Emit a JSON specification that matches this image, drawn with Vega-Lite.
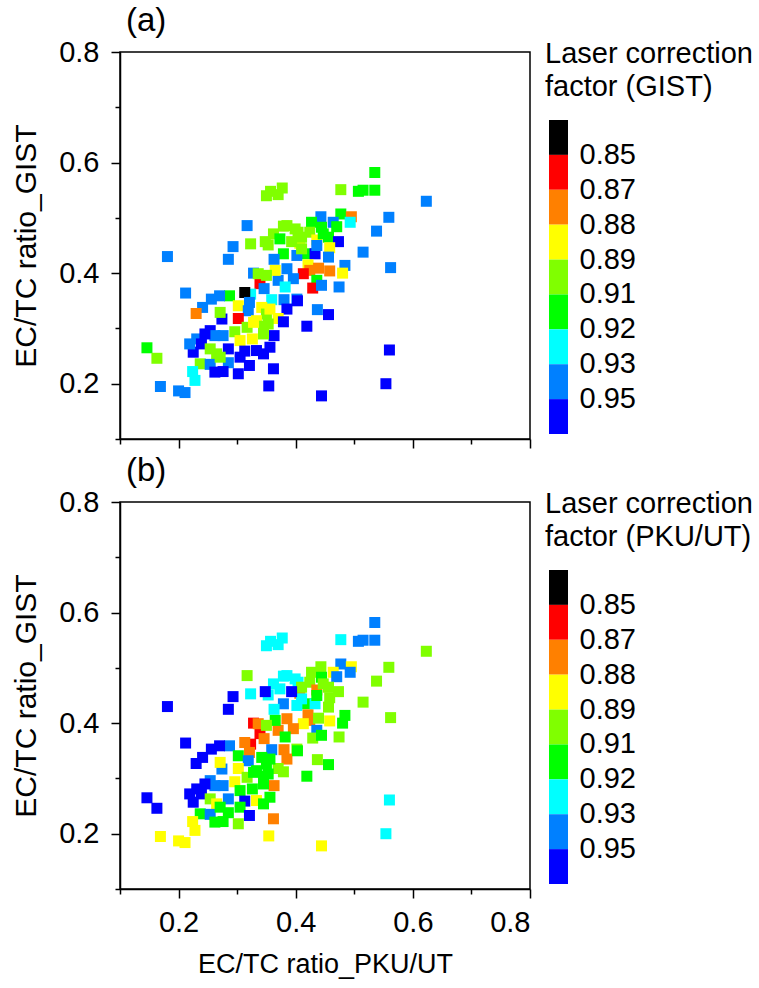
{
  "$schema": "https://vega.github.io/schema/vega-lite/v6.json",
  "padding": {"left": 10, "top": 4, "right": 5, "bottom": 5},
  "config": {
    "font": "Liberation Sans",
    "view": {"stroke": "black", "strokeWidth": 1.5},
    "axis": {
      "domainColor": "black", "domainWidth": 1.5, "tickColor": "black", "tickWidth": 1.5,
      "labelColor": "black", "labelFontSize": 29, "titleColor": "black", "titleFontSize": 27,
      "titleFontWeight": "normal", "grid": false, "labelPadding": 6
    },
    "title": {"fontSize": 33, "fontWeight": "normal", "color": "black", "anchor": "start", "frame": "group"}
  },
  "datasets": {
    "bins": [
      {"bin": "<0.85"}, {"bin": "0.85-0.87"}, {"bin": "0.87-0.88"}, {"bin": "0.88-0.89"}, {"bin": "0.89-0.91"},
      {"bin": "0.91-0.92"}, {"bin": "0.92-0.93"}, {"bin": "0.93-0.95"}, {"bin": ">0.95"}
    ],
    "pts": [
      {"x":0.317,"y":0.486,"g":0.94,"p":0.90},
      {"x":0.385,"y":0.486,"g":0.90,"p":0.925},
      {"x":0.379,"y":0.485,"g":0.90,"p":0.925},
      {"x":0.477,"y":0.507,"g":0.915,"p":0.94},
      {"x":0.495,"y":0.502,"g":0.875,"p":0.885},
      {"x":0.443,"y":0.502,"g":0.94,"p":0.90},
      {"x":0.427,"y":0.492,"g":0.915,"p":0.90},
      {"x":0.464,"y":0.492,"g":0.94,"p":0.885},
      {"x":0.493,"y":0.492,"g":0.925,"p":0.94},
      {"x":0.470,"y":0.484,"g":0.915,"p":0.94},
      {"x":0.444,"y":0.483,"g":0.915,"p":0.915},
      {"x":0.424,"y":0.474,"g":0.90,"p":0.90},
      {"x":0.362,"y":0.471,"g":0.90,"p":0.925},
      {"x":0.373,"y":0.462,"g":0.915,"p":0.925},
      {"x":0.404,"y":0.474,"g":0.90,"p":0.925},
      {"x":0.456,"y":0.465,"g":0.915,"p":0.90},
      {"x":0.473,"y":0.457,"g":0.96,"p":0.90},
      {"x":0.436,"y":0.460,"g":0.885,"p":0.875},
      {"x":0.407,"y":0.454,"g":0.885,"p":0.875},
      {"x":0.353,"y":0.451,"g":0.90,"p":0.925},
      {"x":0.323,"y":0.453,"g":0.90,"p":0.925},
      {"x":0.293,"y":0.448,"g":0.94,"p":0.96},
      {"x":0.458,"y":0.446,"g":0.885,"p":0.90},
      {"x":0.419,"y":0.435,"g":0.915,"p":0.915},
      {"x":0.379,"y":0.435,"g":0.915,"p":0.94},
      {"x":0.402,"y":0.432,"g":0.94,"p":0.925},
      {"x":0.363,"y":0.425,"g":0.94,"p":0.925},
      {"x":0.456,"y":0.429,"g":0.94,"p":0.90},
      {"x":0.433,"y":0.435,"g":0.96,"p":0.925},
      {"x":0.285,"y":0.425,"g":0.94,"p":0.96},
      {"x":0.515,"y":0.438,"g":0.94,"p":0.90},
      {"x":0.484,"y":0.414,"g":0.94,"p":0.915},
      {"x":0.458,"y":0.404,"g":0.875,"p":0.885},
      {"x":0.480,"y":0.400,"g":0.885,"p":0.915},
      {"x":0.421,"y":0.415,"g":0.885,"p":0.875},
      {"x":0.424,"y":0.405,"g":0.875,"p":0.875},
      {"x":0.385,"y":0.408,"g":0.94,"p":0.875},
      {"x":0.413,"y":0.399,"g":0.86,"p":0.885},
      {"x":0.396,"y":0.390,"g":0.94,"p":0.875},
      {"x":0.436,"y":0.387,"g":0.915,"p":0.94},
      {"x":0.429,"y":0.373,"g":0.86,"p":0.90},
      {"x":0.444,"y":0.378,"g":0.94,"p":0.915},
      {"x":0.474,"y":0.375,"g":0.94,"p":0.90},
      {"x":0.328,"y":0.400,"g":0.94,"p":0.86},
      {"x":0.370,"y":0.387,"g":0.94,"p":0.875},
      {"x":0.339,"y":0.381,"g":0.86,"p":0.86},
      {"x":0.346,"y":0.372,"g":0.94,"p":0.875},
      {"x":0.323,"y":0.362,"g":0.925,"p":0.86},
      {"x":0.313,"y":0.365,"g":0.84,"p":0.875},
      {"x":0.287,"y":0.359,"g":0.915,"p":0.94},
      {"x":0.270,"y":0.359,"g":0.94,"p":0.96},
      {"x":0.212,"y":0.364,"g":0.94,"p":0.96},
      {"x":0.256,"y":0.353,"g":0.94,"p":0.96},
      {"x":0.241,"y":0.338,"g":0.94,"p":0.96},
      {"x":0.230,"y":0.327,"g":0.875,"p":0.96},
      {"x":0.359,"y":0.352,"g":0.925,"p":0.94},
      {"x":0.380,"y":0.352,"g":0.94,"p":0.875},
      {"x":0.402,"y":0.353,"g":0.94,"p":0.90},
      {"x":0.385,"y":0.335,"g":0.96,"p":0.875},
      {"x":0.437,"y":0.334,"g":0.94,"p":0.90},
      {"x":0.456,"y":0.325,"g":0.96,"p":0.915},
      {"x":0.321,"y":0.347,"g":0.94,"p":0.875},
      {"x":0.302,"y":0.341,"g":0.885,"p":0.915},
      {"x":0.319,"y":0.332,"g":0.94,"p":0.94},
      {"x":0.342,"y":0.338,"g":0.885,"p":0.915},
      {"x":0.350,"y":0.326,"g":0.90,"p":0.915},
      {"x":0.370,"y":0.318,"g":0.885,"p":0.90},
      {"x":0.379,"y":0.312,"g":0.96,"p":0.90},
      {"x":0.419,"y":0.304,"g":0.96,"p":0.915},
      {"x":0.302,"y":0.318,"g":0.86,"p":0.885},
      {"x":0.274,"y":0.317,"g":0.96,"p":0.94},
      {"x":0.271,"y":0.329,"g":0.90,"p":0.885},
      {"x":0.333,"y":0.314,"g":0.885,"p":0.915},
      {"x":0.345,"y":0.304,"g":0.90,"p":0.915},
      {"x":0.317,"y":0.302,"g":0.90,"p":0.90},
      {"x":0.296,"y":0.294,"g":0.90,"p":0.885},
      {"x":0.254,"y":0.296,"g":0.96,"p":0.94},
      {"x":0.262,"y":0.287,"g":0.94,"p":0.94},
      {"x":0.231,"y":0.281,"g":0.94,"p":0.96},
      {"x":0.363,"y":0.287,"g":0.96,"p":0.875},
      {"x":0.326,"y":0.281,"g":0.885,"p":0.915},
      {"x":0.305,"y":0.278,"g":0.885,"p":0.915},
      {"x":0.345,"y":0.290,"g":0.90,"p":0.915},
      {"x":0.239,"y":0.272,"g":0.96,"p":0.96},
      {"x":0.254,"y":0.263,"g":0.90,"p":0.90},
      {"x":0.225,"y":0.257,"g":0.96,"p":0.96},
      {"x":0.285,"y":0.263,"g":0.96,"p":0.94},
      {"x":0.313,"y":0.259,"g":0.96,"p":0.96},
      {"x":0.356,"y":0.266,"g":0.96,"p":0.915},
      {"x":0.333,"y":0.260,"g":0.96,"p":0.885},
      {"x":0.345,"y":0.254,"g":0.96,"p":0.915},
      {"x":0.265,"y":0.254,"g":0.90,"p":0.885},
      {"x":0.305,"y":0.248,"g":0.96,"p":0.915},
      {"x":0.237,"y":0.236,"g":0.90,"p":0.915},
      {"x":0.254,"y":0.235,"g":0.94,"p":0.94},
      {"x":0.285,"y":0.238,"g":0.94,"p":0.915},
      {"x":0.321,"y":0.233,"g":0.96,"p":0.96},
      {"x":0.362,"y":0.227,"g":0.96,"p":0.875},
      {"x":0.262,"y":0.221,"g":0.96,"p":0.915},
      {"x":0.276,"y":0.222,"g":0.96,"p":0.915},
      {"x":0.302,"y":0.218,"g":0.96,"p":0.90},
      {"x":0.224,"y":0.222,"g":0.925,"p":0.885},
      {"x":0.228,"y":0.206,"g":0.925,"p":0.885},
      {"x":0.354,"y":0.196,"g":0.96,"p":0.885},
      {"x":0.200,"y":0.187,"g":0.94,"p":0.885},
      {"x":0.211,"y":0.184,"g":0.94,"p":0.885},
      {"x":0.444,"y":0.178,"g":0.96,"p":0.885},
      {"x":0.535,"y":0.582,"g":0.915,"p":0.94},
      {"x":0.477,"y":0.551,"g":0.90,"p":0.925},
      {"x":0.507,"y":0.548,"g":0.915,"p":0.94},
      {"x":0.515,"y":0.550,"g":0.915,"p":0.94},
      {"x":0.535,"y":0.550,"g":0.915,"p":0.94},
      {"x":0.623,"y":0.530,"g":0.94,"p":0.90},
      {"x":0.350,"y":0.540,"g":0.90,"p":0.925},
      {"x":0.357,"y":0.548,"g":0.90,"p":0.925},
      {"x":0.370,"y":0.542,"g":0.90,"p":0.925},
      {"x":0.377,"y":0.554,"g":0.90,"p":0.925},
      {"x":0.559,"y":0.501,"g":0.94,"p":0.90},
      {"x":0.538,"y":0.476,"g":0.94,"p":0.90},
      {"x":0.562,"y":0.410,"g":0.94,"p":0.90},
      {"x":0.560,"y":0.261,"g":0.96,"p":0.925},
      {"x":0.554,"y":0.200,"g":0.96,"p":0.925},
      {"x":0.181,"y":0.430,"g":0.94,"p":0.96},
      {"x":0.146,"y":0.265,"g":0.915,"p":0.96},
      {"x":0.163,"y":0.246,"g":0.90,"p":0.96},
      {"x":0.169,"y":0.195,"g":0.94,"p":0.885},
      {"x":0.436,"y":0.450,"g":0.94,"p":0.915},
      {"x":0.439,"y":0.409,"g":0.875,"p":0.90},
      {"x":0.403,"y":0.350,"g":0.96,"p":0.915},
      {"x":0.336,"y":0.399,"g":0.90,"p":0.875},
      {"x":0.382,"y":0.375,"g":0.925,"p":0.915},
      {"x":0.356,"y":0.335,"g":0.885,"p":0.915},
      {"x":0.353,"y":0.308,"g":0.90,"p":0.915},
      {"x":0.328,"y":0.311,"g":0.885,"p":0.915},
      {"x":0.245,"y":0.290,"g":0.96,"p":0.96},
      {"x":0.276,"y":0.287,"g":0.94,"p":0.94},
      {"x":0.219,"y":0.272,"g":0.94,"p":0.96},
      {"x":0.271,"y":0.248,"g":0.90,"p":0.915},
      {"x":0.399,"y":0.480,"g":0.90,"p":0.925},
      {"x":0.410,"y":0.465,"g":0.90,"p":0.90},
      {"x":0.447,"y":0.471,"g":0.915,"p":0.90},
      {"x":0.410,"y":0.444,"g":0.90,"p":0.925},
      {"x":0.365,"y":0.405,"g":0.885,"p":0.915},
      {"x":0.350,"y":0.396,"g":0.90,"p":0.90},
      {"x":0.393,"y":0.457,"g":0.90,"p":0.96},
      {"x":0.348,"y":0.457,"g":0.90,"p":0.96}
    ]
  },
  "vconcat": [
    {
      "hconcat": [
        {
          "width": 410, "height": 387,
          "title": {"text": "(a)", "dx": 6, "offset": 0},
          "data": {"name": "pts"},
          "mark": {"type": "square", "size": 121, "opacity": 1},
          "encoding": {
            "x": {"field": "x", "type": "quantitative", "scale": {"domain": [0.1, 0.8], "nice": false, "zero": false},
              "axis": {"values": [0.1,0.2,0.3,0.4,0.5,0.6,0.7,0.8], "labels": false, "title": null,
                "tickSize": {"condition": {"test": "round(datum.value*10) % 2 == 0", "value": 9}, "value": 5}}},
            "y": {"field": "y", "type": "quantitative", "scale": {"domain": [0.1, 0.8], "nice": false, "zero": false},
              "axis": {"values": [0.1,0.2,0.3,0.4,0.5,0.6,0.7,0.8], "format": ".1f", "title": "EC/TC ratio_GIST", "titlePadding": 17, "titleFontSize": 30, "labelPadding": 12,
                "labelExpr": "round(datum.value*10) % 2 == 0 ? datum.label : ''",
                "tickSize": {"condition": {"test": "round(datum.value*10) % 2 == 0", "value": 9}, "value": 5}}},
            "color": {"field": "g", "type": "quantitative",
              "scale": {"type": "threshold", "domain": [0.85,0.87,0.88,0.89,0.91,0.92,0.93,0.95],
                "range": ["#000000","#ff0000","#ff8000","#ffff00","#80ff00","#00ff00","#00ffff","#0080ff","#0000ff"]},
              "legend": null}
          }
        },
        {
          "width": 19, "height": 387,
          "view": {"stroke": null},
          "title": {"text": ["Laser correction", "factor (GIST)"], "fontSize": 29, "lineHeight": 33, "baseline": "top", "offset": 10, "dx": -4, "dy": 60},
          "data": {"name": "bins"},
          "mark": {"type": "rect"},
          "encoding": {
            "y": {"field": "bin", "type": "ordinal", "sort": null,
              "scale": {"domain": ["<0.85","0.85-0.87","0.87-0.88","0.88-0.89","0.89-0.91","0.91-0.92","0.92-0.93","0.93-0.95",">0.95"], "range": [68, 382], "paddingInner": 0, "paddingOuter": 0},
              "axis": {"orient": "right", "title": null, "ticks": false, "domain": false, "labelPadding": 11, "labelOffset": 17.45, "labelBaseline": "middle",
                "labelExpr": "substring(datum.label, 0, 1) == '<' ? substring(datum.label, 1) : (indexof(datum.label, '-') > 0 ? split(datum.label, '-')[1] : '')"}},
            "color": {"field": "bin", "type": "ordinal", "sort": null,
              "scale": {"domain": ["<0.85","0.85-0.87","0.87-0.88","0.88-0.89","0.89-0.91","0.91-0.92","0.92-0.93","0.93-0.95",">0.95"],
                "range": ["#000000","#ff0000","#ff8000","#ffff00","#80ff00","#00ff00","#00ffff","#0080ff","#0000ff"]},
              "legend": null}
          }
        }
      ],
      "spacing": 19, "bounds": "flush",
      "resolve": {"scale": {"color": "independent", "y": "independent"}}
    },
    {
      "hconcat": [
        {
          "width": 410, "height": 387,
          "title": {"text": "(b)", "dx": 6, "offset": 0},
          "data": {"name": "pts"},
          "mark": {"type": "square", "size": 121, "opacity": 1},
          "encoding": {
            "x": {"field": "x", "type": "quantitative", "scale": {"domain": [0.1, 0.8], "nice": false, "zero": false},
              "axis": {"values": [0.1,0.2,0.3,0.4,0.5,0.6,0.7,0.8], "format": ".1f", "title": "EC/TC ratio_PKU/UT", "titlePadding": 14, "labelPadding": 10,
                "labelExpr": "round(datum.value*10) % 2 == 0 ? datum.label : ''",
                "tickSize": {"condition": {"test": "round(datum.value*10) % 2 == 0", "value": 9}, "value": 5}}},
            "y": {"field": "y", "type": "quantitative", "scale": {"domain": [0.1, 0.8], "nice": false, "zero": false},
              "axis": {"values": [0.1,0.2,0.3,0.4,0.5,0.6,0.7,0.8], "format": ".1f", "title": "EC/TC ratio_GIST", "titlePadding": 17, "titleFontSize": 30, "labelPadding": 12,
                "labelExpr": "round(datum.value*10) % 2 == 0 ? datum.label : ''",
                "tickSize": {"condition": {"test": "round(datum.value*10) % 2 == 0", "value": 9}, "value": 5}}},
            "color": {"field": "p", "type": "quantitative",
              "scale": {"type": "threshold", "domain": [0.85,0.87,0.88,0.89,0.91,0.92,0.93,0.95],
                "range": ["#000000","#ff0000","#ff8000","#ffff00","#80ff00","#00ff00","#00ffff","#0080ff","#0000ff"]},
              "legend": null}
          }
        },
        {
          "width": 19, "height": 387,
          "view": {"stroke": null},
          "title": {"text": ["Laser correction", "factor (PKU/UT)"], "fontSize": 29, "lineHeight": 33, "baseline": "top", "offset": 10, "dx": -4, "dy": 60},
          "data": {"name": "bins"},
          "mark": {"type": "rect"},
          "encoding": {
            "y": {"field": "bin", "type": "ordinal", "sort": null,
              "scale": {"domain": ["<0.85","0.85-0.87","0.87-0.88","0.88-0.89","0.89-0.91","0.91-0.92","0.92-0.93","0.93-0.95",">0.95"], "range": [68, 382], "paddingInner": 0, "paddingOuter": 0},
              "axis": {"orient": "right", "title": null, "ticks": false, "domain": false, "labelPadding": 11, "labelOffset": 17.45, "labelBaseline": "middle",
                "labelExpr": "substring(datum.label, 0, 1) == '<' ? substring(datum.label, 1) : (indexof(datum.label, '-') > 0 ? split(datum.label, '-')[1] : '')"}},
            "color": {"field": "bin", "type": "ordinal", "sort": null,
              "scale": {"domain": ["<0.85","0.85-0.87","0.87-0.88","0.88-0.89","0.89-0.91","0.91-0.92","0.92-0.93","0.93-0.95",">0.95"],
                "range": ["#000000","#ff0000","#ff8000","#ffff00","#80ff00","#00ff00","#00ffff","#0080ff","#0000ff"]},
              "legend": null}
          }
        }
      ],
      "spacing": 19, "bounds": "flush",
      "resolve": {"scale": {"color": "independent", "y": "independent"}}
    }
  ],
  "spacing": 4,
  "resolve": {"scale": {"color": "independent"}}
}
